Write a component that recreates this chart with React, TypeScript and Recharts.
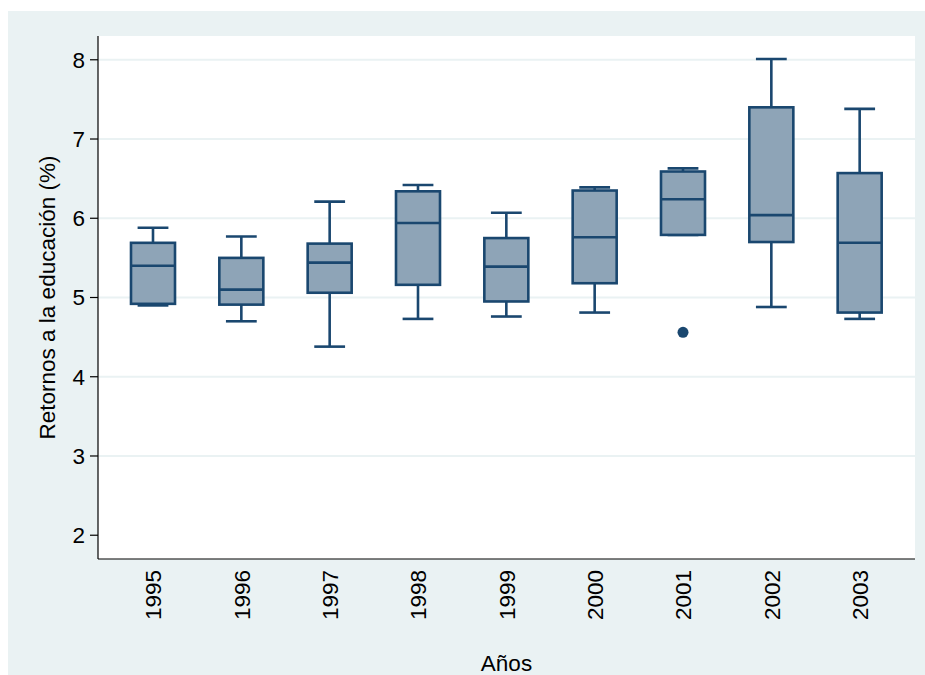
import React from "react";
import {
  ComposedChart,
  Bar,
  XAxis,
  YAxis,
  CartesianGrid,
  Label,
} from "recharts";

// box plot summary per year
const years = ["1995", "1996", "1997", "1998", "1999", "2000", "2001", "2002", "2003"];
const whiskerHigh = [5.88, 5.77, 6.21, 6.42, 6.07, 6.39, 6.63, 8.01, 7.38];
const upperQuartile = [5.69, 5.5, 5.68, 6.34, 5.75, 6.35, 6.59, 7.4, 6.57];
const medians = [5.4, 5.1, 5.44, 5.94, 5.39, 5.76, 6.24, 6.04, 5.69];
const lowerQuartile = [4.92, 4.91, 5.06, 5.16, 4.95, 5.18, 5.79, 5.7, 4.81];
const whiskerLow = [4.9, 4.7, 4.38, 4.73, 4.76, 4.81, 5.79, 4.88, 4.73];
const outlierYears = ["2001"];
const outlierValues = [4.56];

const yTicks = [2, 3, 4, 5, 6, 7, 8];
const gridValues = [3, 4, 5, 6, 7, 8];

const NAVY = "#1A476F";
const BOX_FILL = "#8EA4B7";
const BG = "#EAF2F3";
const FONT = "'Liberation Sans', Arial, sans-serif";
const FS = 22.5;

const data = years.map((year, i) => {
  const outs = outlierYears
    .map((y, j) => (y === year ? outlierValues[j] : null))
    .filter((v) => v !== null) as number[];
  const lo = Math.min(whiskerLow[i], ...outs);
  const hi = Math.max(whiskerHigh[i], ...outs);
  return {
    year,
    hi,
    lo,
    wHigh: whiskerHigh[i],
    q3: upperQuartile[i],
    med: medians[i],
    q1: lowerQuartile[i],
    wLow: whiskerLow[i],
    outs,
  };
});

function BoxShape(props: any) {
  const { x, y, width, height, payload } = props;
  if (payload == null || !isFinite(y)) return null;
  const top = height >= 0 ? y : y + height;
  const h = Math.abs(height);
  const { hi, lo } = payload;
  const py = (v: number) => top + ((hi - v) / (hi - lo)) * h;
  const cx = x + width / 2;
  const capHalf = width * 0.35;
  const sw = 2.6;
  return (
    <g>
      <line x1={cx} x2={cx} y1={py(payload.wHigh)} y2={py(payload.q3)} stroke={NAVY} strokeWidth={sw} />
      <line x1={cx} x2={cx} y1={py(payload.q1)} y2={py(payload.wLow)} stroke={NAVY} strokeWidth={sw} />
      <line x1={cx - capHalf} x2={cx + capHalf} y1={py(payload.wHigh)} y2={py(payload.wHigh)} stroke={NAVY} strokeWidth={sw} />
      <line x1={cx - capHalf} x2={cx + capHalf} y1={py(payload.wLow)} y2={py(payload.wLow)} stroke={NAVY} strokeWidth={sw} />
      <rect
        x={x}
        y={py(payload.q3)}
        width={width}
        height={py(payload.q1) - py(payload.q3)}
        fill={BOX_FILL}
        stroke={NAVY}
        strokeWidth={sw}
      />
      <line x1={x} x2={x + width} y1={py(payload.med)} y2={py(payload.med)} stroke={NAVY} strokeWidth={sw} />
      {payload.outs.map((v: number, k: number) => (
        <circle key={k} cx={cx} cy={py(v)} r={5.5} fill={NAVY} />
      ))}
    </g>
  );
}

function YearTick(props: any) {
  const { x, y, payload } = props;
  return (
    <text
      transform={`translate(${x}, ${y + 11}) rotate(-90)`}
      textAnchor="end"
      dy="0.36em"
      fontSize={FS}
      fontFamily={FONT}
      fill="#000"
    >
      {payload.value}
    </text>
  );
}

export default function App() {
  return (
    <div
      style={{
        position: "fixed",
        top: 11,
        left: 8,
        width: 917,
        height: 664,
        background: BG,
      }}
    >
      <ComposedChart
        width={917}
        height={664}
        data={data}
        margin={{ top: 25, right: 10, left: 0, bottom: 0 }}
      >
        <CartesianGrid
          fill="#fff"
          vertical={false}
          horizontalValues={gridValues}
          stroke={BG}
          strokeWidth={2}
        />
        <XAxis
          dataKey="year"
          type="category"
          interval={0}
          padding={{ left: 11, right: 11 }}
          height={116}
          tickLine={false}
          tickSize={0}
          tickMargin={0}
          axisLine={{ stroke: "#000", strokeWidth: 1.2 }}
          tick={<YearTick />}
        >
          <Label
            content={(p: any) => {
              const vb = p.viewBox;
              return (
                <text
                  x={vb.x + vb.width / 2}
                  y={vb.y + 112}
                  textAnchor="middle"
                  fontSize={FS}
                  fontFamily={FONT}
                  fill="#000"
                >
                  Años
                </text>
              );
            }}
          />
        </XAxis>
        <YAxis
          type="number"
          domain={[1.7, 8.3]}
          ticks={yTicks}
          allowDataOverflow
          width={90}
          tickSize={8}
          tickMargin={5}
          axisLine={{ stroke: "#000", strokeWidth: 1.2 }}
          tickLine={{ stroke: "#000", strokeWidth: 1.2 }}
          tick={{ fontSize: FS, fontFamily: FONT, fill: "#000" }}
        >
          <Label
            content={(p: any) => {
              const vb = p.viewBox;
              return (
                <text
                  transform={`translate(${vb.x + 39}, ${vb.y + vb.height / 2}) rotate(-90)`}
                  textAnchor="middle"
                  dy="0.36em"
                  fontSize={FS}
                  fontFamily={FONT}
                  fill="#000"
                >
                  Retornos a la educación (%)
                </text>
              );
            }}
          />
        </YAxis>
        <Bar
          dataKey={(d: any) => [d.lo, d.hi]}
          barSize={44}
          shape={<BoxShape />}
          isAnimationActive={false}
        />
      </ComposedChart>
    </div>
  );
}
